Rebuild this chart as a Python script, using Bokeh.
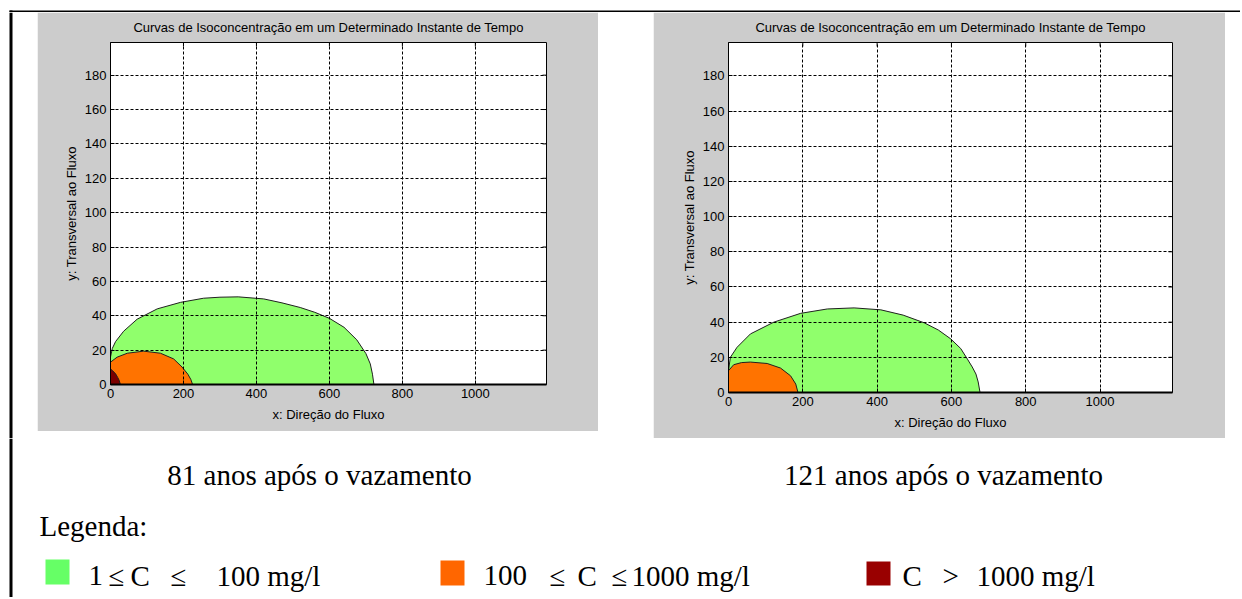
import math
from bokeh.plotting import figure
from bokeh.layouts import column, row
from bokeh.models import Range1d, FixedTicker, Title, Spacer
from bokeh.core.properties import value
from bokeh.embed import file_html
from bokeh.resources import INLINE

# ---------------- data ----------------
x_ticks = [0, 200, 400, 600, 800, 1000]
y_ticks = [0, 20, 40, 60, 80, 100, 120, 140, 160, 180]
x_max = 1195
y_max = 199

title_text = "Curvas de Isoconcentração em um Determinado Instante de Tempo"
x_label = "x: Direção do Fluxo"
y_label = "y: Transversal ao Fluxo"

# 81 years panel: region boundaries (x, y)
green81_x = [0, 0, 5, 14, 36, 73, 128, 192, 255, 300, 350, 420, 470, 520, 560, 600, 640, 675, 700, 712, 718, 722]
green81_y = [0, 16, 21, 25, 31, 38, 44, 47.8, 50.2, 50.8, 51, 49.8, 47.5, 44.8, 42, 38.5, 33.3, 26, 18, 12, 6, 0]
orange81_x = [0, 0, 18, 46, 91, 137, 173, 196, 212, 220, 225]
orange81_y = [0, 13, 15.9, 18.2, 19.4, 18.2, 14.9, 10.2, 6, 3, 0]
dark81_x = [0, 0, 6, 14, 20, 24, 27]
dark81_y = [0, 9, 8, 6.2, 4, 2.3, 0]

# 121 years panel
green121_x = [0, 0, 5, 23, 59, 122, 194, 266, 338, 410, 470, 527, 565, 598, 625, 643, 656, 666, 672, 677]
green121_y = [0, 12.4, 20, 25.7, 33.3, 40, 45, 47.5, 48.1, 47, 44, 39.6, 35.5, 30.5, 25, 19, 14.5, 10.5, 6, 0]
orange121_x = [0, 0, 14, 35, 59, 104, 140, 167, 181, 187]
orange121_y = [0, 12.4, 15.8, 17, 17.3, 16.5, 13.9, 9.5, 4.8, 0]

captions = ["81 anos após o vazamento", "121 anos após o vazamento"]
legend_title = "Legenda:"
legend_colors = ["#66FF66", "#FF6600", "#990000"]
legend_pieces = [
    ["1", "≤", "C", "≤", "100 mg/l"],
    ["100", "≤", "C", "≤", "1000 mg/l"],
    ["C", ">", "1000 mg/l"],
]

# ---------------- styles / layout ----------------
GRAY = "#CCCCCC"
C_GREEN = "#90FF6C"
C_ORANGE = "#FF7300"
C_DARK = "#7A0000"
SANS = "Liberation Sans"
SERIF = "Liberation Serif"
W = 1240


def make_panel(width, height, borders, regions):
    bl, br, bt, bb = borders
    p = figure(width=width, height=height, x_range=Range1d(0, x_max), y_range=Range1d(0, y_max),
               output_backend="svg", toolbar_location=None, title=None,
               min_border_left=bl, min_border_right=br, min_border_top=bt, min_border_bottom=bb,
               background_fill_color="white", border_fill_color=GRAY,
               outline_line_color="black", outline_line_width=1)
    for xs, ys, col in regions:
        p.patch(xs, ys, fill_color=col, line_color="#202020", line_width=1)
    for ax in (p.xaxis, p.yaxis):
        ax.major_tick_in = 4
        ax.major_tick_out = 0
        ax.minor_tick_line_color = None
        ax.major_label_text_font = SANS
        ax.major_label_text_font_size = "13px"
        ax.major_label_text_color = "black"
        ax.axis_line_color = "black"
        ax.major_tick_line_color = "black"
        ax.axis_label_text_font = SANS
        ax.axis_label_text_font_size = "13px"
        ax.axis_label_text_font_style = "normal"
        ax.axis_label_text_color = "black"
        ax.major_label_standoff = 4
    p.xaxis.ticker = FixedTicker(ticks=x_ticks)
    p.yaxis.ticker = FixedTicker(ticks=y_ticks)
    p.xaxis.axis_label = x_label
    p.yaxis.axis_label = y_label
    p.xaxis.axis_label_standoff = 6
    p.yaxis.axis_label_standoff = 3
    p.xaxis.axis_line_width = 2
    p.xgrid.ticker = FixedTicker(ticks=x_ticks)
    p.ygrid.ticker = FixedTicker(ticks=y_ticks)
    p.grid.grid_line_color = "black"
    p.grid.grid_line_dash = "3 2"
    p.grid.grid_line_width = 1
    p.grid.level = "overlay"
    # box-style inner ticks on the top and right edges
    p.ray(x=x_ticks, y=[y_max] * len(x_ticks), length=4, length_units="screen",
          angle=-math.pi / 2, line_color="black", line_width=1)
    p.ray(x=[x_max] * len(y_ticks), y=y_ticks, length=4, length_units="screen",
          angle=math.pi, line_color="black", line_width=1)
    p.add_layout(Title(text=title_text, align="center", vertical_align="top", text_font=SANS,
                       text_font_size="13px", text_font_style="normal", text_color="black",
                       standoff=11), "above")
    return p


p1 = make_panel(561, 419, (73, 52, 30, 47),
                [(green81_x, green81_y, C_GREEN), (orange81_x, orange81_y, C_ORANGE),
                 (dark81_x, dark81_y, C_DARK)])
p2 = make_panel(572, 426, (75, 53, 30, 46),
                [(green121_x, green121_y, C_GREEN), (orange121_x, orange121_y, C_ORANGE)])


def blank(width, height):
    f = figure(width=width, height=height, x_range=Range1d(0, width), y_range=Range1d(height, 0),
               output_backend="svg", toolbar_location=None, title=None, min_border=0,
               x_axis_type=None, y_axis_type=None, outline_line_color=None,
               background_fill_color="white", border_fill_color="white")
    f.grid.visible = False
    try:
        f.frame_align = False
    except AttributeError:
        pass
    return f


# top frame line
top = blank(W, 12)
top.quad(left=9, right=W, top=10, bottom=12.5, fill_color="black", line_color=None)
top.quad(left=9, right=12, top=10, bottom=12, fill_color="black", line_color=None)

# left frame line beside the panels
left = blank(37, 426)
left.quad(left=9, right=12, top=0, bottom=426, fill_color="black", line_color=None)

# captions and legend
BH = 159
bot = blank(W, BH)
bot.quad(left=9, right=12, top=0, bottom=BH, fill_color="black", line_color=None)
bot.text(x=[319, 943], y=[36, 36], text=captions, text_font=value(SERIF), text_font_size="29px",
         text_align="center", text_baseline="alphabetic", text_color="black")
bot.text(x=[39], y=[87], text=[legend_title], text_font=value(SERIF), text_font_size="29px",
         text_align="left", text_baseline="alphabetic", text_color="black")
sq_left = [45, 440, 866]
bot.quad(left=sq_left, right=[s + 24 for s in sq_left], top=[121, 122, 123], bottom=[146, 147, 147],
         fill_color=legend_colors, line_color=None)
piece_x = [[88, 108, 130, 170, 216], [483, 549, 577, 611, 631], [902, 942, 976]]
tx, ty, tt = [], [], []
for pcs, xs in zip(legend_pieces, piece_x):
    for t, xx in zip(pcs, xs):
        tx.append(xx)
        ty.append(137)
        tt.append(t)
bot.text(x=tx, y=ty, text=tt, text_font=value(SERIF), text_font_size="29px",
         text_align="left", text_baseline="alphabetic", text_color="black")

layout = column(
    top,
    row(left, column(p1, Spacer(width=561, height=7)), Spacer(width=55, height=426), p2,
        Spacer(width=W - 1225, height=426)),
    bot,
)

open("out.html", "w").write(file_html(layout, INLINE))
